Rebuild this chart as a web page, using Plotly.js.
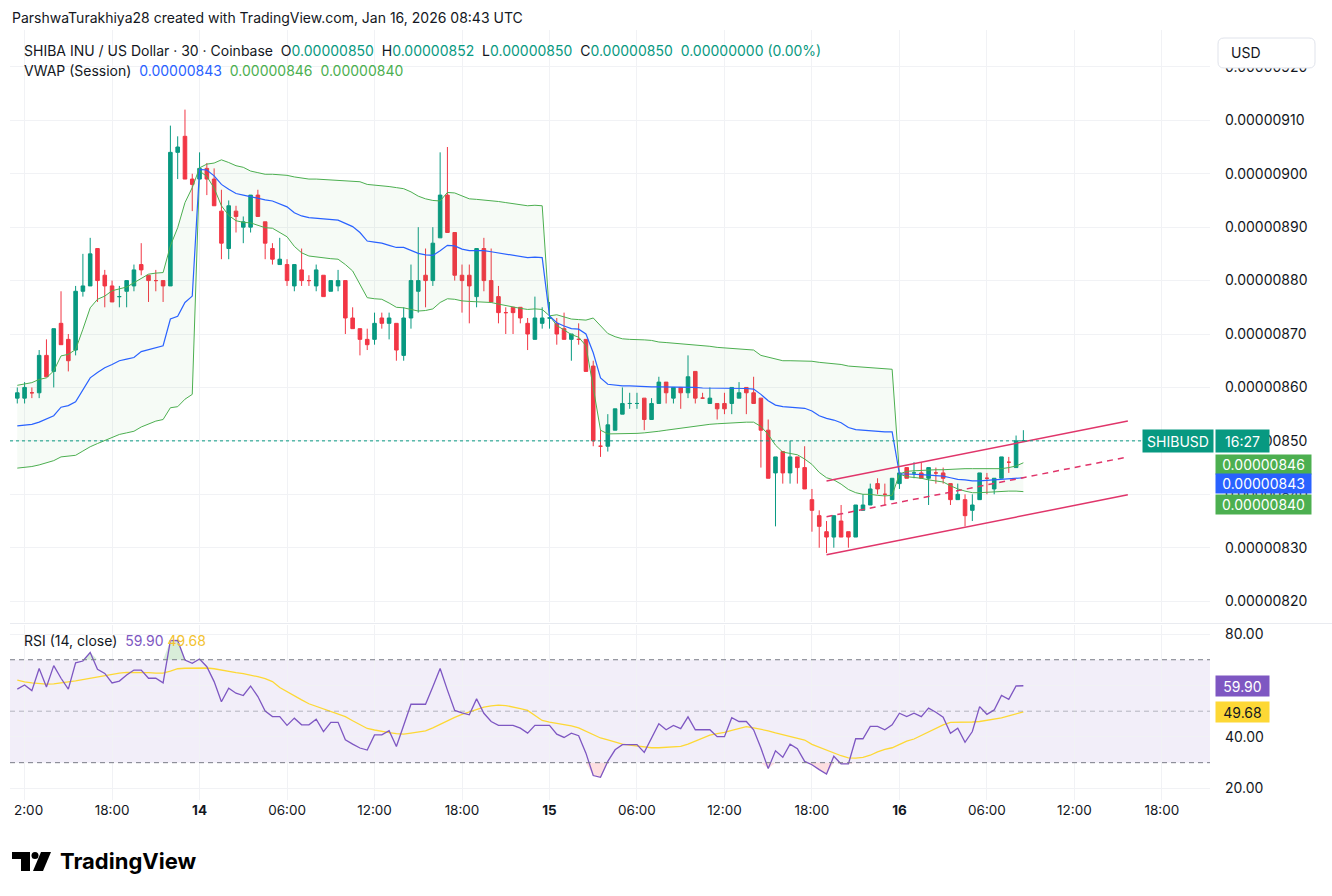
<!DOCTYPE html>
<html><head><meta charset="utf-8">
<script src="https://cdn.plot.ly/plotly-3.0.1.min.js"></script>
<style>html,body{margin:0;padding:0;background:#fff;}#chart{width:1332px;height:896px;}</style>
</head><body><div id="chart"></div>
<script>
// ---- data (prices in units of 0.00000001 USD) ----
const firstBar = '2026-01-13T11:30:00Z';
const openP  = [858,858,859,859,866,863,872,869,867,878,879,886,881,879,877,878,879,883,881,880,880,879,904,907,899,899,901,899,893,886,893,890,890,896,891,886,883,883,879,882,880,879,881,878,879,880,873,871,869,869,873,872,872,866,873,878,881,880,888,896,889,881,881,877,886,880,877,874,875,875,872,869,872,873,872,871,869,869,869,864,849,849,852,855,857,857,858,854,857,861,858,860,859,863,858,857,857,857,857,858,860,859,858,852,844,848,844,847,845,839,836,833,832,835,833,832,837,838,842,840,839,842,845,844,844,843,844,844,842,839,839,837,839,843,841,843,846,845,850];
const highP  = [860,861,860,867,869,871,878,870,879,885,888,886,882,880,879,880,883,887,881,882,880,909,907,912,900,904,902,901,897,895,894,892,896,897,891,887,888,884,883,886,881,883,881,880,882,880,875,871,871,874,874,874,872,875,883,890,886,890,904,905,889,883,883,886,888,886,879,875,875,875,873,877,875,876,873,874,870,872,869,865,852,855,856,860,859,859,858,858,862,861,860,860,866,863,859,860,857,859,860,861,860,862,858,854,847,848,850,847,849,841,837,835,836,838,833,838,840,842,843,842,843,844,845,846,846,845,845,845,842,842,840,840,844,844,843,847,847,851,852];
const lowP   = [857,857,858,858,862,860,868,863,866,877,879,876,875,876,875,875,878,881,876,878,876,879,899,899,893,899,896,894,884,884,889,887,889,892,884,883,883,879,878,879,879,878,877,878,878,870,871,866,867,868,871,869,865,865,871,874,875,879,888,889,880,874,872,875,878,876,872,870,870,872,867,869,871,871,868,869,865,868,863,849,847,848,852,855,856,856,852,854,857,857,857,856,858,857,858,857,854,855,855,858,855,857,845,843,834,842,842,842,841,833,830,829,830,832,830,832,837,838,840,838,839,841,843,843,843,838,842,842,838,839,834,835,839,840,840,843,844,845,850];
const closeP = [859,860,859,866,862,871,868,865,878,879,885,880,879,876,877,880,882,882,880,880,879,904,905,899,898,901,899,894,887,894,892,891,896,892,887,884,884,880,883,880,880,882,877,880,880,873,871,869,868,872,872,873,867,873,880,880,880,887,896,889,881,880,879,886,880,876,874,874,874,873,870,873,873,873,870,869,870,869,863,850,849,853,856,857,857,857,854,857,861,859,860,859,862,858,858,858,856,856,860,859,859,857,852,843,847,844,847,845,841,837,834,832,836,832,832,838,838,841,841,840,843,844,843,844,843,845,844,843,839,840,836,838,844,843,843,847,846,850,850];
const vwapP  = [852.8,852.9,853.1,853.5,854.1,854.7,856.3,856.6,857.3,859.5,861.8,862.8,863.7,864.3,865.0,865.3,865.6,866.7,867.1,867.5,867.8,872.8,873.3,875.9,877.1,900.8,900.7,899.6,898.0,897.1,896.3,896.0,895.7,895.3,895.1,894.9,894.3,893.8,892.7,892.1,891.8,891.7,891.6,891.5,891.3,890.7,890.1,889.0,887.4,887.2,887.0,886.6,886.2,886.2,885.6,885.1,884.8,884.7,885.6,886.6,886.5,885.9,885.6,885.6,885.6,885.4,885.2,884.9,884.7,884.5,884.3,884.4,884.3,873.4,872.1,871.5,871.0,870.9,870.0,866.5,861.8,860.6,860.4,860.3,860.3,860.2,860.2,860.1,860.1,860.1,860.1,860.0,860.0,860.0,859.9,859.9,859.9,859.8,859.8,859.8,859.8,859.7,858.7,857.5,856.7,856.4,856.3,856.3,856.1,855.6,854.7,854.2,853.9,853.4,852.5,852.1,852.0,851.8,851.8,851.7,851.7,843.8,843.8,843.8,843.7,843.6,843.5,843.4,843.1,842.8,842.7,842.5,842.5,842.6,842.7,842.8,842.9,843.0,843.1];
const upperP = [860.4,860.6,860.9,861.5,861.8,863.1,865.9,866.2,867.1,870.9,874.9,876.5,877.1,878.1,878.5,878.8,879.6,880.4,881.2,881.4,881.5,886.5,889.9,894.6,897.4,901.1,901.8,902.0,902.6,902.1,901.5,901.2,900.5,900.2,899.9,899.9,899.8,899.7,899.4,899.2,899.0,899.0,898.9,898.9,898.8,898.7,898.6,898.5,898.0,897.9,897.8,897.6,897.4,897.2,896.6,895.8,895.3,895.0,894.9,896.5,896.4,895.8,895.3,895.2,895.1,894.9,894.8,894.6,894.4,894.2,894.0,894.1,894.0,873.4,873.6,873.2,872.8,872.7,872.6,873.0,871.6,870.1,869.5,869.1,869.0,869.0,868.9,868.8,868.5,868.4,868.3,868.2,868.1,868.0,867.9,867.7,867.5,867.4,867.3,867.2,867.1,867.0,866.0,865.7,865.4,865.0,865.0,865.0,865.0,864.9,864.7,864.6,864.5,864.3,864.0,863.9,863.8,863.7,863.6,863.5,863.4,843.8,844.3,844.4,844.5,844.6,844.6,844.6,844.7,844.8,844.8,844.8,844.8,844.8,844.8,844.8,845.0,845.3,845.9];
const lowerP = [844.9,845.0,845.2,845.5,845.9,846.3,847.0,847.1,847.3,848.1,848.9,849.5,850.1,850.7,851.2,851.5,851.8,852.6,853.2,853.7,854.0,856.2,856.4,857.8,858.7,900.5,899.5,897.3,894.0,892.2,891.2,890.9,890.8,890.4,889.9,889.8,889.0,888.2,886.4,885.2,884.6,884.4,884.3,884.1,884.0,883.0,881.8,879.4,876.8,876.6,876.5,875.8,875.0,874.9,874.6,874.3,874.4,874.7,875.9,876.6,876.5,876.2,876.1,876.0,876.0,875.9,875.6,875.3,875.0,874.8,874.6,874.7,874.6,873.4,871.6,870.8,869.9,869.4,867.8,860.0,852.0,851.3,851.3,851.4,851.4,851.4,851.5,851.6,851.8,852.0,852.2,852.4,852.6,852.8,853.0,853.1,853.2,853.3,853.4,853.5,853.5,853.5,852.7,851.2,849.2,847.9,847.6,847.4,846.6,845.6,844.1,843.1,842.7,841.9,840.9,840.3,840.0,840.0,839.8,839.7,839.8,843.8,843.3,843.2,843.0,842.7,842.5,842.3,841.6,841.0,840.6,840.3,840.3,840.4,840.5,840.6,840.6,840.6,840.5];
const rsiV   = [58.6,60.2,58.0,66.6,59.4,67.7,62.8,58.6,68.8,69.5,72.8,66.3,64.7,61.0,61.7,64.1,66.0,66.0,62.8,62.8,61.0,77.4,77.5,69.9,68.6,70.3,67.3,61.5,53.7,58.9,57.0,56.1,59.8,55.7,50.1,47.9,47.9,44.5,47.3,44.7,44.7,46.9,42.1,45.7,45.7,38.9,37.2,35.7,34.9,40.8,40.8,42.4,36.3,44.7,52.7,52.7,52.7,59.5,66.6,58.2,50.3,49.4,48.6,54.8,49.2,46.0,44.5,44.5,44.5,43.4,41.5,44.5,44.5,44.5,41.1,39.8,41.5,40.5,33.7,25.0,24.3,30.5,35.0,37.0,37.0,37.0,34.0,39.5,45.1,42.8,44.5,43.2,47.8,42.8,42.8,42.8,40.1,40.1,47.5,46.0,46.0,42.8,35.7,27.7,34.6,32.1,37.2,35.4,30.5,29.2,27.3,25.6,32.5,29.5,29.5,39.3,39.3,44.1,44.1,42.8,44.7,49.2,47.9,49.2,47.9,51.2,49.6,47.7,41.4,43.4,37.9,42.1,51.8,48.8,50.5,56.1,54.6,59.8,59.9];
const rsiMaV = [62.1,61.4,61.0,60.7,60.5,60.6,60.9,61.4,61.8,62.3,62.8,63.3,64.0,64.4,64.8,65.1,65.1,65.1,65.0,64.8,64.8,65.6,66.5,66.7,66.8,66.9,66.8,66.5,65.9,65.4,65.0,64.6,64.1,63.4,62.7,61.5,59.2,57.5,56.0,54.4,52.9,51.9,50.8,49.8,48.8,47.9,46.3,44.8,43.3,42.7,42.1,41.7,41.3,41.1,41.5,41.9,42.4,43.5,44.9,46.4,47.6,48.8,49.8,50.7,51.6,52.1,52.4,52.2,51.7,51.0,50.3,48.3,46.4,45.8,45.3,44.8,44.3,43.5,42.2,40.8,39.6,38.9,38.0,37.2,36.8,36.5,36.2,35.8,35.8,35.9,36.0,36.3,37.2,38.4,39.7,40.7,41.3,41.8,42.6,43.3,44.0,43.5,43.0,42.4,41.6,40.9,40.2,39.6,38.8,37.1,36.0,34.7,33.6,32.7,31.9,31.8,32.1,32.9,34.2,35.2,35.8,37.0,38.4,39.2,40.6,42.0,43.3,44.7,45.7,45.7,45.7,45.8,46.0,46.4,46.9,47.4,48.2,48.9,49.7];
const channelT = ['2026-01-15 19:00','2026-01-16 15:40'];
const channelUp  = [842.5, 853.7];
const channelMid = [835.8, 847.0];
const channelLow = [828.7, 839.9];
const priceTicks = [820,830,840,850,860,870,880,890,900,910,920];
const timeTicks = ['2026-01-13 12:00','2026-01-13 18:00','2026-01-14 00:00','2026-01-14 06:00','2026-01-14 12:00','2026-01-14 18:00','2026-01-15 00:00','2026-01-15 06:00','2026-01-15 12:00','2026-01-15 18:00','2026-01-16 00:00','2026-01-16 06:00','2026-01-16 12:00','2026-01-16 18:00'];
const timeLabels = ['','18:00','<b>14</b>','06:00','12:00','18:00','<b>15</b>','06:00','12:00','18:00','<b>16</b>','06:00','12:00','18:00'];
const rsiTicks = [20,40,60,80];

// ---- helpers ----
const U = 1e-8;
const P = a => a.map(v => +(v*U).toPrecision(7));
const t0 = Date.parse(firstBar);
const times = openP.map((_, i) => new Date(t0 + i*1800000).toISOString().slice(0,16).replace('T',' '));
const W = 1332, H = 896, ML = 10, MR = 122, MT = 30, MB = 96;
const px = x => (x - ML) / (W - ML - MR);
const py = y => (H - MB - y) / (H - MT - MB);
const FONT = 'Inter, "Liberation Sans", sans-serif';
const TXT = '#131722', UP = '#089981', DN = '#F23645', GRN = '#4CAF50', BLU = '#2962FF', PUR = '#7E57C2', YEL = '#FDD835', GRID = '#F1F2F5';
const sp = '\u00a0';
const OB = 70, OS = 30;
const rsiOver = rsiV.map(v => Math.max(v, OB));
const rsiUnder = rsiV.map(v => Math.min(v, OS));

const traces = [
  {x: times, y: P(upperP), type:'scatter', mode:'lines', line:{color:GRN, width:1}, hoverinfo:'skip', xaxis:'x', yaxis:'y'},
  {x: times, y: P(lowerP), type:'scatter', mode:'lines', line:{color:GRN, width:1}, fill:'tonexty', fillcolor:'rgba(76,175,80,0.05)', hoverinfo:'skip', xaxis:'x', yaxis:'y'},
  {x: times, y: P(vwapP), type:'scatter', mode:'lines', line:{color:BLU, width:1.2}, hoverinfo:'skip', xaxis:'x', yaxis:'y'},
  {x: times, open:P(openP), high:P(highP), low:P(lowP), close:P(closeP), type:'candlestick', xaxis:'x', yaxis:'y',
   increasing:{line:{color:UP, width:1}, fillcolor:UP}, decreasing:{line:{color:DN, width:1}, fillcolor:DN}, whiskerwidth:0, hoverinfo:'skip'},
  {x: channelT, y: P(channelUp), type:'scatter', mode:'lines', line:{color:'#E0356A', width:1.5}, hoverinfo:'skip', xaxis:'x', yaxis:'y'},
  {x: channelT, y: P(channelMid), type:'scatter', mode:'lines', line:{color:'#E0356A', width:1.5, dash:'6px,5px'}, hoverinfo:'skip', xaxis:'x', yaxis:'y'},
  {x: channelT, y: P(channelLow), type:'scatter', mode:'lines', line:{color:'#E0356A', width:1.5}, hoverinfo:'skip', xaxis:'x', yaxis:'y'},
  // overbought / oversold highlight
  {x: times, y: times.map(() => OB), type:'scatter', mode:'lines', line:{width:0}, hoverinfo:'skip', xaxis:'x', yaxis:'y2'},
  {x: times, y: rsiOver, type:'scatter', mode:'lines', line:{width:0}, fill:'tonexty', fillcolor:'rgba(76,175,80,0.22)', hoverinfo:'skip', xaxis:'x', yaxis:'y2'},
  {x: times, y: times.map(() => OS), type:'scatter', mode:'lines', line:{width:0}, hoverinfo:'skip', xaxis:'x', yaxis:'y2'},
  {x: times, y: rsiUnder, type:'scatter', mode:'lines', line:{width:0}, fill:'tonexty', fillcolor:'rgba(242,54,69,0.16)', hoverinfo:'skip', xaxis:'x', yaxis:'y2'},
  {x: times, y: rsiMaV, type:'scatter', mode:'lines', line:{color:YEL, width:1.3}, hoverinfo:'skip', xaxis:'x', yaxis:'y2'},
  {x: times, y: rsiV, type:'scatter', mode:'lines', line:{color:PUR, width:1.3}, hoverinfo:'skip', xaxis:'x', yaxis:'y2'}
];

const lastP = closeP[closeP.length-1]*U;
const shapes = [
  {type:'rect', xref:'paper', yref:'y2', x0:0, x1:1, y0:OS, y1:OB, fillcolor:'rgba(126,87,194,0.10)', line:{width:0}, layer:'below'},
  {type:'line', xref:'paper', yref:'y2', x0:0, x1:1, y0:OB, y1:OB, line:{color:'#787B86', width:1, dash:'5px,4px'}},
  {type:'line', xref:'paper', yref:'y2', x0:0, x1:1, y0:50, y1:50, line:{color:'rgba(120,123,134,0.5)', width:1, dash:'5px,4px'}},
  {type:'line', xref:'paper', yref:'y2', x0:0, x1:1, y0:OS, y1:OS, line:{color:'#787B86', width:1, dash:'5px,4px'}},
  {type:'line', xref:'paper', yref:'y', x0:0, x1:px(1142), y0:lastP, y1:lastP, line:{color:UP, width:1, dash:'dot'}},
  {type:'line', xref:'paper', yref:'paper', x0:px(10), x1:px(1332), y0:py(623.5), y1:py(623.5), line:{color:'#E9EBF0', width:1}},
  {type:'path', xref:'paper', yref:'paper', path:`M ${px(1224)} ${py(38)} L ${px(1309)} ${py(38)} Q ${px(1315)} ${py(38)} ${px(1315)} ${py(44)} L ${px(1315)} ${py(62)} Q ${px(1315)} ${py(68)} ${px(1309)} ${py(68)} L ${px(1224)} ${py(68)} Q ${px(1218)} ${py(68)} ${px(1218)} ${py(62)} L ${px(1218)} ${py(44)} Q ${px(1218)} ${py(38)} ${px(1224)} ${py(38)} Z`, fillcolor:'#FFFFFF', line:{color:'#E0E3EB', width:1}, layer:'above'},
  // TradingView logo
  {type:'path', xref:'paper', yref:'paper', path:`M ${px(12)} ${py(852)} L ${px(30)} ${py(852)} L ${px(30)} ${py(871)} L ${px(21)} ${py(871)} L ${px(21)} ${py(859)} L ${px(12)} ${py(859)} Z`, fillcolor:'#000', line:{width:0}},
  {type:'circle', xref:'paper', yref:'paper', x0:px(31.5), x1:px(38.5), y0:py(852), y1:py(859), fillcolor:'#000', line:{width:0}},
  {type:'path', xref:'paper', yref:'paper', path:`M ${px(41)} ${py(852)} L ${px(51)} ${py(852)} L ${px(43)} ${py(871)} L ${px(33)} ${py(871)} Z`, fillcolor:'#000', line:{width:0}}
];

const ann = (o) => Object.assign({showarrow:false, xref:'paper', yref:'paper', font:{family:FONT, size:14, color:TXT}}, o);
const annotations = [
  ann({x:px(10), y:py(18), xanchor:'left', yanchor:'middle', text:'ParshwaTurakhiya28 created with TradingView.com, Jan 16, 2026 08:43 UTC'}),
  ann({x:px(22), y:py(50), xanchor:'left', yanchor:'middle', text:
    `SHIBA INU / US Dollar · 30 · Coinbase${sp}${sp}O<span style="color:${UP}">0.00000850</span>${sp}${sp}H<span style="color:${UP}">0.00000852</span>${sp}${sp}L<span style="color:${UP}">0.00000850</span>${sp}${sp}C<span style="color:${UP}">0.00000850</span>${sp}${sp}<span style="color:${UP}">0.00000000 (0.00%)</span>`}),
  ann({x:px(22), y:py(70), xanchor:'left', yanchor:'middle', text:
    `VWAP (Session)${sp}${sp}<span style="color:${BLU}">0.00000843</span>${sp}${sp}<span style="color:${GRN}">0.00000846</span>${sp}${sp}<span style="color:${GRN}">0.00000840</span>`}),
  ann({x:px(22), y:py(640), xanchor:'left', yanchor:'middle', text:
    `RSI (14, close)${sp}${sp}<span style="color:${PUR}">59.90</span>${sp}<span style="color:#F2C230">49.68</span>`}),
  ann({x:px(1229), y:py(52), xanchor:'left', yanchor:'middle', text:'USD'}),
  ann({x:px(12), y:py(810), xanchor:'left', yanchor:'middle', text:'2:00', font:{family:FONT, size:13.5, color:TXT}}),
  ann({x:px(58), y:py(861), xanchor:'left', yanchor:'middle', text:'<b>TradingView</b>', font:{family:FONT, size:22, color:'#000'}}),
  // right-hand price labels
  ann({x:px(1142), y:lastP, yref:'y', xanchor:'left', yanchor:'middle', text:'SHIBUSD', bgcolor:UP, width:66, height:18, borderpad:2, font:{family:FONT, size:14, color:'#fff'}}),
  ann({x:px(1215), y:lastP, yref:'y', xanchor:'left', yanchor:'middle', text:'16:27', bgcolor:UP, width:49, height:18, borderpad:2, font:{family:FONT, size:14, color:'#fff'}}),
  ann({x:px(1215), y:upperP[upperP.length-1]*U, yref:'y', yshift:-1.6, xanchor:'left', yanchor:'middle', text:'0.00000846', bgcolor:GRN, width:91, height:15, borderpad:2, font:{family:FONT, size:14, color:'#fff'}}),
  ann({x:px(1215), y:vwapP[vwapP.length-1]*U, yref:'y', yshift:-6.1, xanchor:'left', yanchor:'middle', text:'0.00000843', bgcolor:BLU, width:91, height:15, borderpad:2, font:{family:FONT, size:14, color:'#fff'}}),
  ann({x:px(1215), y:lowerP[lowerP.length-1]*U, yref:'y', yshift:-12.7, xanchor:'left', yanchor:'middle', text:'0.00000840', bgcolor:GRN, width:91, height:15, borderpad:2, font:{family:FONT, size:14, color:'#fff'}}),
  ann({x:px(1215), y:rsiV[rsiV.length-1], yref:'y2', xanchor:'left', yanchor:'middle', text:'59.90', bgcolor:PUR, width:49, height:16, borderpad:2, font:{family:FONT, size:14, color:'#fff'}}),
  ann({x:px(1215), y:rsiMaV[rsiMaV.length-1], yref:'y2', xanchor:'left', yanchor:'middle', text:'49.68', bgcolor:YEL, width:49, height:16, borderpad:2, font:{family:FONT, size:14, color:TXT}})
];

const layout = {
  width: W, height: H, margin:{l:ML, r:MR, t:MT, b:MB}, paper_bgcolor:'#fff', plot_bgcolor:'#fff', showlegend:false,
  font:{family:FONT, color:TXT},
  xaxis:{type:'date', anchor:'y2', range:['2026-01-13 11:00','2026-01-16 21:18'], tickvals:timeTicks, ticktext:timeLabels,
    showgrid:true, gridcolor:GRID, gridwidth:1, zeroline:false, showline:false, ticks:'', tickfont:{family:FONT, size:13.5, color:TXT},
    rangeslider:{visible:false}, fixedrange:true},
  yaxis:{domain:[py(622), 1], anchor:'x', side:'right', range:[816.1*U, 926.9*U], tickvals:priceTicks.map(v=>v*U), tickformat:'.8f',
    showgrid:true, gridcolor:GRID, zeroline:false, showline:false, ticks:'', ticklabelstandoff:14, tickfont:{family:FONT, size:14, color:TXT}},
  yaxis2:{domain:[0, py(625)], anchor:'x', side:'right', range:[15.5, 83.5], tickvals:rsiTicks, tickformat:'.2f',
    showgrid:true, gridcolor:GRID, zeroline:false, showline:false, ticks:'', ticklabelstandoff:14, tickfont:{family:FONT, size:14, color:TXT}},
  shapes, annotations
};
Plotly.newPlot('chart', traces, layout, {displayModeBar:false, staticPlot:true});
</script></body></html>
